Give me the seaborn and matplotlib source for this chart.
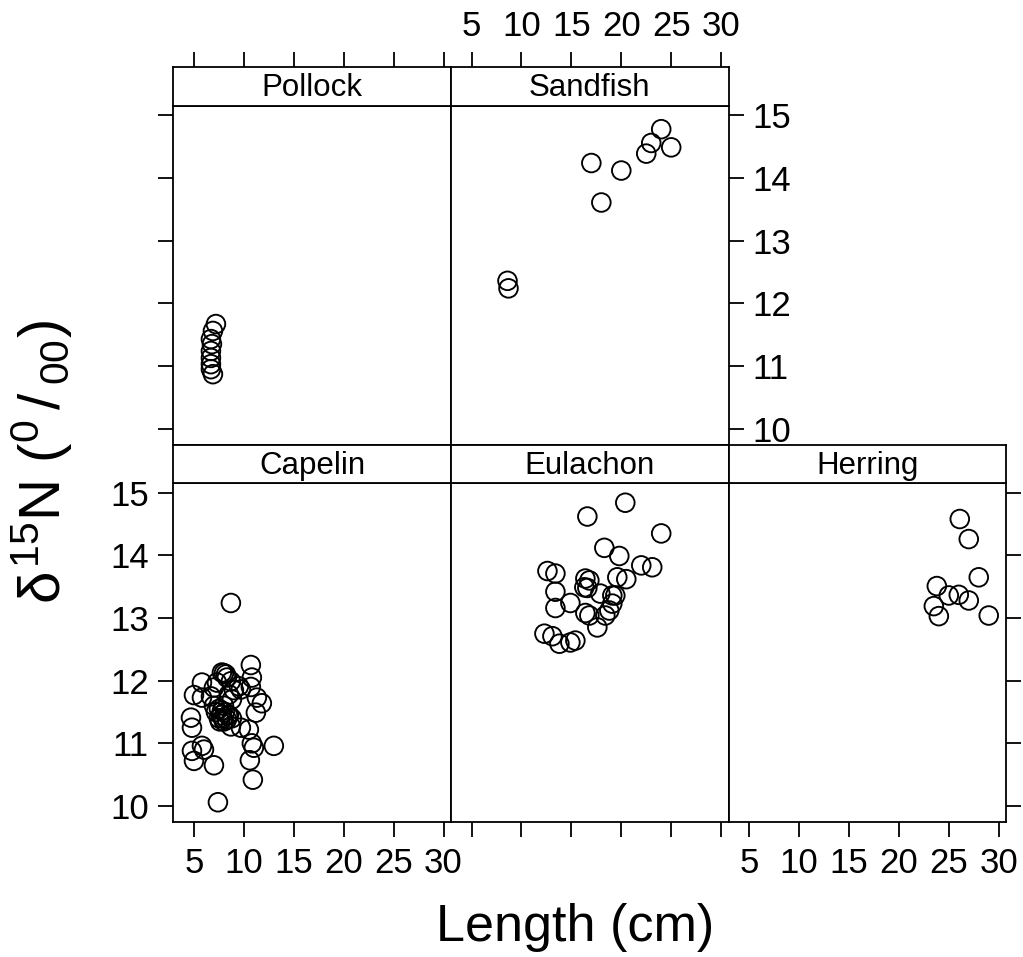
import numpy as np
import pandas as pd
import matplotlib
matplotlib.use("Agg")
import matplotlib.pyplot as plt
import seaborn as sns

# ---------------- data ----------------
pollock_len = [7.2, 6.9, 6.7, 6.8, 6.7, 6.7, 6.7, 6.7, 6.9]
pollock_n15 = [11.67, 11.56, 11.43, 11.35, 11.24, 11.13, 11.03, 10.95, 10.87]

sandfish_len = [24.0, 23.0, 22.5, 25.0, 17.0, 20.0, 18.0, 8.6, 8.7]
sandfish_n15 = [14.78, 14.56, 14.39, 14.49, 14.24, 14.12, 13.61, 12.36, 12.24]

capelin_len = [8.7, 10.7, 10.8, 10.7, 7.8, 8.2, 8.3, 8.0, 7.3, 8.7, 9.5, 5.8, 5.0, 5.8,
               6.7, 7.0, 8.5, 9.7, 11.3, 11.8, 11.2, 4.7, 4.8, 7.5, 7.7, 7.9, 8.1, 8.3,
               7.6, 8.0, 8.4, 7.8, 8.7, 9.7, 10.5, 10.8, 11.0, 13.0, 5.8, 6.0, 4.8, 5.0,
               7.0, 10.6, 10.9, 7.4, 7.0, 7.5, 8.0, 8.5, 7.2, 8.8, 9.0, 8.8]
capelin_n15 = [13.24, 12.25, 12.05, 11.90, 12.13, 12.10, 12.05, 12.12, 11.97, 11.99, 11.91,
               11.97, 11.77, 11.73, 11.75, 11.89, 11.78, 11.86, 11.73, 11.64, 11.49, 11.41,
               11.25, 11.55, 11.45, 11.40, 11.50, 11.38, 11.35, 11.60, 11.45, 11.52, 11.27,
               11.25, 11.22, 11.00, 10.93, 10.96, 10.96, 10.90, 10.88, 10.72, 10.65, 10.73,
               10.42, 10.06, 11.60, 11.40, 11.35, 11.45, 11.50, 11.40, 11.85, 11.70]

eulachon_len = [20.4, 16.6, 24.0, 18.3, 19.8, 22.0, 23.1, 12.6, 13.4, 19.6, 20.5, 16.4,
                16.8, 16.3, 16.6, 13.4, 17.9, 19.1, 19.4, 19.1, 14.9, 13.4, 18.8, 16.4,
                16.8, 18.4, 17.6, 12.3, 13.1, 13.8, 14.9, 15.4]
eulachon_n15 = [14.84, 14.62, 14.35, 14.12, 13.99, 13.84, 13.81, 13.75, 13.71, 13.65, 13.62,
                13.63, 13.60, 13.49, 13.48, 13.42, 13.39, 13.36, 13.36, 13.23, 13.24, 13.16,
                13.12, 13.08, 13.04, 13.04, 12.85, 12.75, 12.71, 12.59, 12.61, 12.64]

herring_len = [26.1, 27.0, 28.0, 23.8, 25.0, 26.0, 27.0, 23.5, 24.0, 29.0]
herring_n15 = [14.58, 14.26, 13.65, 13.51, 13.36, 13.37, 13.28, 13.19, 13.03, 13.04]

x_ticks = [5, 10, 15, 20, 25, 30]
y_ticks = [10, 11, 12, 13, 14, 15]

frames = []
for name, L, N in [("Pollock", pollock_len, pollock_n15),
                   ("Sandfish", sandfish_len, sandfish_n15),
                   ("Capelin", capelin_len, capelin_n15),
                   ("Eulachon", eulachon_len, eulachon_n15),
                   ("Herring", herring_len, herring_n15)]:
    frames.append(pd.DataFrame({"species": name, "length": L, "n15": N}))
df = pd.concat(frames, ignore_index=True)

# ---------------- style ----------------
sns.set_style("white")
plt.rcParams['font.family'] = ['Liberation Sans', 'DejaVu Sans']
plt.rcParams['mathtext.fontset'] = 'custom'
plt.rcParams['mathtext.rm'] = 'Liberation Sans'
plt.rcParams['mathtext.it'] = 'Liberation Sans'
plt.rcParams['mathtext.bf'] = 'Liberation Sans'
plt.rcParams['text.color'] = 'black'
plt.rcParams['xtick.color'] = 'black'
plt.rcParams['ytick.color'] = 'black'
plt.rcParams['xtick.labelcolor'] = 'black'
plt.rcParams['ytick.labelcolor'] = 'black'

W, H = 1023, 957
fig = plt.figure(figsize=(W / 100, H / 100), dpi=100)
fig.patch.set_facecolor("white")

left0 = 173.3
colw = 277.6
rows = {0: (106.0, 445.0, 67.0), 1: (483.3, 822.3, 445.0)}  # panel top, panel bottom, strip top
XLIM = (2.93, 30.74)
YLIM = (9.74, 15.15)
LW = 1.3
TICK_LEN = 10.5
TICK_FS = 25
STRIP_FS = 22.5

def frac(x0, y0, x1, y1):
    return [x0 / W, 1 - y1 / H, (x1 - x0) / W, (y1 - y0) / H]

layout = {
    "Pollock": (0, 0), "Sandfish": (0, 1),
    "Capelin": (1, 0), "Eulachon": (1, 1), "Herring": (1, 2),
}

for name, (r, c) in layout.items():
    ptop, pbot, stop = rows[r]
    x0 = left0 + c * colw
    x1 = x0 + colw
    ax = fig.add_axes(frac(x0, ptop, x1, pbot))
    sub = df[df.species == name]
    sns.scatterplot(data=sub, x="length", y="n15", ax=ax, marker="o", s=180,
                    facecolors="none", edgecolor="black", linewidth=1.35, legend=False)
    ax.set_xlim(XLIM)
    ax.set_ylim(YLIM)
    ax.set_xlabel("")
    ax.set_ylabel("")
    ax.set_xticks(x_ticks)
    ax.set_yticks(y_ticks)
    for s in ax.spines.values():
        s.set_visible(True)
        s.set_linewidth(LW)
        s.set_color("black")
    ax.tick_params(direction="out", length=TICK_LEN, width=LW, labelsize=TICK_FS,
                   color="black", labelcolor="black", pad=7,
                   bottom=False, top=False, left=False, right=False,
                   labelbottom=False, labeltop=False, labelleft=False, labelright=False)
    # strip
    sax = fig.add_axes(frac(x0, stop, x1, ptop))
    sax.set_xlim(XLIM)
    sax.set_ylim(0, 1)
    sax.set_facecolor("white")
    for s in sax.spines.values():
        s.set_visible(True)
        s.set_linewidth(LW)
        s.set_color("black")
    sax.set_xticks(x_ticks)
    sax.set_yticks([])
    sax.tick_params(direction="out", length=TICK_LEN, width=LW, labelsize=TICK_FS,
                    color="black", labelcolor="black", pad=7,
                    bottom=False, top=False, left=False, right=False,
                    labelbottom=False, labeltop=False, labelleft=False, labelright=False)
    sax.text(0.5, 0.45, name, transform=sax.transAxes, ha="center", va="center",
             fontsize=STRIP_FS, color="black")

    if name == "Pollock":
        ax.tick_params(left=True)
        sax.tick_params(top=True)
    elif name == "Sandfish":
        ax.tick_params(right=True, labelright=True)
        sax.tick_params(top=True, labeltop=True)
    elif name == "Capelin":
        ax.tick_params(left=True, labelleft=True, bottom=True, labelbottom=True)
    elif name == "Eulachon":
        ax.tick_params(bottom=True)
    elif name == "Herring":
        ax.tick_params(bottom=True, labelbottom=True, right=True)

fig.text(575 / W, 1 - 928 / H, "Length (cm)", ha="center", va="center", fontsize=37.5,
         color="black")
fig.text(42 / W, 1 - 462 / H, r"$\delta^{15}\mathrm{N}\ (^{0}\,/\,_{00})$", ha="center",
         va="center", rotation=90, fontsize=42, color="black")

fig.savefig("out.png", dpi=100, facecolor="white")
